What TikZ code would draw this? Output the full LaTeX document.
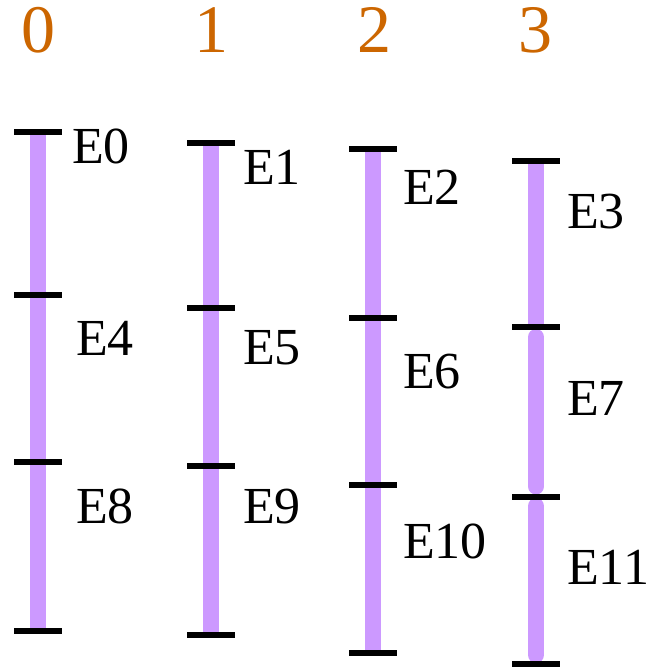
\documentclass[tikz,border=0pt]{standalone}
\usepackage{fontspec}
\setmainfont{Liberation Serif}
\usepackage{xcolor}
\usepackage{tikz}
\usetikzlibrary{positioning,backgrounds}

\definecolor{spanpurple}{HTML}{CC99FF}
\definecolor{laneorange}{HTML}{CC6600}

\begin{document}
\begin{tikzpicture}[
  x=1pt, y=-1pt,
  stop/.style={draw=none, fill=black, rectangle, inner sep=0pt,
               minimum width=48pt, minimum height=5.5pt},
  seg/.style={draw=spanpurple, line width=16pt},
  lbl/.style={anchor=west, inner sep=0pt, font=\fontsize{52}{60}\selectfont},
  hdr/.style={inner sep=0pt, text=laneorange, font=\fontsize{68}{76}\selectfont}
]
\useasboundingbox (0,0) rectangle (648,668);

% lane numbers
\node[hdr] (h0) at (38,30) {0};
\node[hdr] (h1) at (211,30) {1};
\node[hdr] (h2) at (374,30) {2};
\node[hdr] (h3) at (535,30) {3};

% event boundaries, one column per lane
\node[stop] (a0) at (38,132) {};
\node[stop] (a1) at (38,295) {};
\node[stop] (a2) at (38,462) {};
\node[stop] (a3) at (38,631) {};

\node[stop] (b0) at (211,143) {};
\node[stop] (b1) at (211,308) {};
\node[stop] (b2) at (211,466) {};
\node[stop] (b3) at (211,635) {};

\node[stop] (c0) at (373,149) {};
\node[stop] (c1) at (373,318) {};
\node[stop] (c2) at (373,485) {};
\node[stop] (c3) at (373,653) {};

\node[stop] (d0) at (536,161) {};
\node[stop] (d1) at (536,327) {};
\node[stop] (d2) at (536,497) {};
\node[stop] (d3) at (536,664) {};

% spans, behind the boundary marks
\begin{scope}[on background layer]
\draw[seg] (a0.center) -- (a1.center);
\draw[seg] (a1.center) -- (a2.center);
\draw[seg] (a2.center) -- (a3.center);
\draw[seg] (b0.center) -- (b1.center);
\draw[seg] (b1.center) -- (b2.center);
\draw[seg] (b2.center) -- (b3.center);
\draw[seg] (c0.center) -- (c1.center);
\draw[seg] (c1.center) -- (c2.center);
\draw[seg] (c2.center) -- (c3.center);
\draw[seg, shorten >=2pt] (d0.center) -- (d1.center);
\draw[seg, line cap=round, shorten <=10pt, shorten >=10.5pt] (d1.center) -- (d2.center);
\draw[seg, line cap=round, shorten <=9pt, shorten >=9pt] (d2.center) -- (d3.center);
\end{scope}

% event names
\node[lbl] (e0) at (72,146) {E0};
\node[lbl] (e4) at (76,338) {E4};
\node[lbl] (e8) at (76,506) {E8};

\node[lbl] (e1) at (243,167) {E1};
\node[lbl] (e5) at (243,348) {E5};
\node[lbl] (e9) at (243,507) {E9};

\node[lbl] (e2) at (403,187) {E2};
\node[lbl] (e6) at (403,372) {E6};
\node[lbl] (e10) at (403,541) {E10};

\node[lbl] (e3) at (567,212) {E3};
\node[lbl] (e7) at (567,398) {E7};
\node[lbl] (e11) at (567,567) {E11};
\end{tikzpicture}
\end{document}
